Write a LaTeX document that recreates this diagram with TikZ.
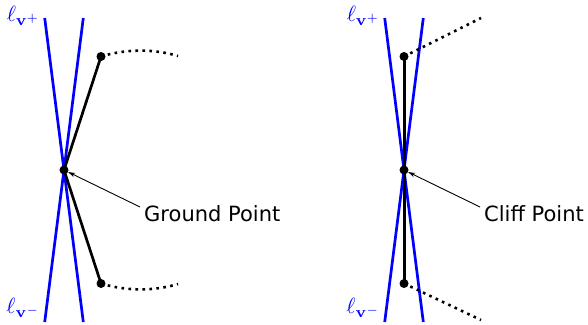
\documentclass[tikz,border=0pt]{standalone}
\usepackage[no-math]{fontspec}
\setmainfont{DejaVu Sans}
\usetikzlibrary{arrows.meta}
\tikzset{
  vline/.style={blue, line width=2.7pt},
  seg/.style={black, line width=2.7pt},
  vseg/.style={black, line width=3.0pt},
  dots/.style={black, line width=2.6pt, dash pattern=on 2.6pt off 4.4pt},
  pt/.style={circle, fill=black, inner sep=0pt, minimum size=9pt},
  lbl/.style={blue, inner sep=0pt, scale=2.2, transform shape},
  txt/.style={font=\fontsize{21}{24}\selectfont, inner sep=0pt, anchor=west},
  ptr/.style={black, line width=0.9pt, -{Stealth[length=7pt,width=4.5pt]}}
}
\begin{document}
\begin{tikzpicture}[x=1pt,y=-1pt]
\useasboundingbox (0,0) rectangle (588,324);
% ---------- left: ground point ----------
\coordinate (A1) at (44.7,18);
\coordinate (A2) at (83.3,322);
\coordinate (B1) at (83.3,18);
\coordinate (B2) at (44.7,322);
\draw[vline] (A1) -- (A2);
\draw[vline] (B1) -- (B2);
\node[pt] (g) at (64,170) {};
\node[pt] (gt) at (101,56.5) {};
\node[pt] (gb) at (101,283.5) {};
\coordinate (gte) at (178,56);
\coordinate (gbe) at (178,284);
\draw[seg] (g.center) -- (gt.center);
\draw[seg] (g.center) -- (gb.center);
\draw[dots] (gt.center) .. controls (127,48.5) and (155,49) .. (gte);
\draw[dots] (gb.center) .. controls (127,291.5) and (155,291) .. (gbe);
\node[lbl] (l1p) at (23.5,16) {$\ell_{\mathbf{v}^+}$};
\node[lbl] (l1m) at (23.5,308) {$\ell_{\mathbf{v}^-}$};
\node[txt] (gtxt) at (144,214) {Ground Point};
\coordinate (gs) at (140,207);
\draw[ptr] (gs) -- (g);
% ---------- right: cliff point ----------
\coordinate (C1) at (384.7,18);
\coordinate (C2) at (423.3,322);
\coordinate (D1) at (423.3,18);
\coordinate (D2) at (384.7,322);
\draw[vline] (C1) -- (C2);
\draw[vline] (D1) -- (D2);
\node[pt] (c) at (404,170) {};
\node[pt] (ct) at (404,56.5) {};
\node[pt] (cb) at (404,283.5) {};
\coordinate (cte) at (481,18);
\coordinate (cbe) at (481,320);
\draw[vseg] (ct.center) -- (cb.center);
\draw[dots] (ct.center) -- (cte);
\draw[dots] (cb.center) -- (cbe);
\node[lbl] (l2p) at (363.5,16) {$\ell_{\mathbf{v}^+}$};
\node[lbl] (l2m) at (363.5,308) {$\ell_{\mathbf{v}^-}$};
\node[txt] (ctxt) at (484,214) {Cliff Point};
\coordinate (cs) at (480,207);
\draw[ptr] (cs) -- (c);
\end{tikzpicture}
\end{document}
